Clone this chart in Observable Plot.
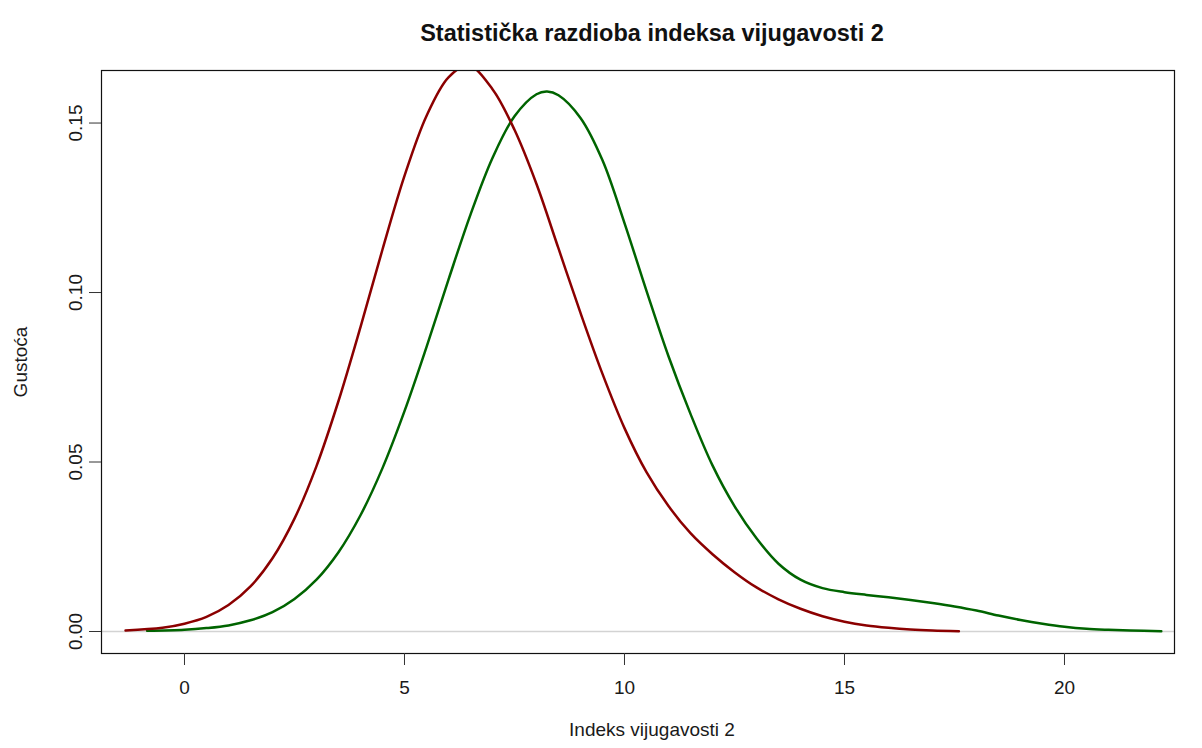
<!DOCTYPE html>
<html>
<head>
<meta charset="utf-8">
<script src="https://cdn.jsdelivr.net/npm/d3@7"></script>
<script src="https://cdn.jsdelivr.net/npm/@observablehq/plot@0.6"></script>
<style>
  body { margin: 0; background: #fff; }
  #chart { width: 1202px; height: 748px; }
</style>
</head>
<body>
<div id="chart"></div>
<script>
// Red density curve (x, density)
const redX = [-1.34, -0.5, 0, 0.5, 1.0, 1.5, 2.0, 2.5, 3.0, 3.5, 4.0, 4.5, 5.0, 5.5, 6.0, 6.45, 7.0, 7.5, 8.0, 8.5, 9.0, 9.5, 10.0, 10.5, 11.0, 11.5, 12.0, 12.5, 13.0, 13.5, 14.0, 14.5, 15.0, 15.5, 16.0, 16.5, 17.0, 17.6];
const redY = [0.0003, 0.0011, 0.0023, 0.0043, 0.0078, 0.0133, 0.0216, 0.0333, 0.0488, 0.068, 0.0898, 0.1127, 0.1344, 0.1521, 0.1635, 0.1670, 0.1600, 0.1480, 0.1320, 0.1130, 0.0940, 0.0760, 0.0600, 0.0470, 0.0370, 0.0290, 0.0228, 0.0175, 0.0130, 0.0095, 0.0067, 0.0045, 0.0029, 0.0018, 0.0011, 0.0006, 0.0003, 0.0001];
// Green density curve (x, density)
const greenX = [-0.85, 0, 0.5, 1.0, 1.5, 2.0, 2.5, 3.0, 3.5, 4.0, 4.5, 5.0, 5.5, 6.0, 6.5, 7.0, 7.5, 8.0, 8.24, 8.5, 9.0, 9.5, 10.0, 10.5, 11.0, 11.5, 12.0, 12.5, 13.0, 13.5, 14.0, 14.5, 15.0, 15.5, 16.0, 16.5, 17.0, 17.5, 18.0, 18.5, 19.0, 19.5, 20.0, 20.5, 21.0, 21.5, 22.2];
const greenY = [0.0002, 0.0005, 0.0010, 0.0018, 0.0033, 0.0057, 0.0096, 0.0153, 0.0234, 0.0343, 0.0482, 0.0650, 0.0839, 0.1038, 0.1230, 0.1397, 0.1520, 0.1585, 0.1593, 0.1582, 0.1515, 0.1390, 0.1205, 0.1005, 0.0812, 0.0642, 0.0490, 0.0370, 0.0275, 0.0200, 0.0153, 0.0128, 0.0116, 0.0108, 0.0101, 0.0093, 0.0084, 0.0074, 0.0062, 0.0047, 0.0034, 0.0023, 0.0014, 0.0008, 0.0005, 0.0003, 0.0001];

const xTicks = [0, 5, 10, 15, 20];
const yTicks = [0, 0.05, 0.10, 0.15];

const titleText = "Statistička razdioba indeksa vijugavosti 2";
const xLabel = "Indeks vijugavosti 2";
const yLabel = "Gustoća";

const red = redX.map((x, i) => ({x, y: redY[i]}));
const green = greenX.map((x, i) => ({x, y: greenY[i]}));

const font = "Liberation Sans, Arial, sans-serif";

const chart = Plot.plot({
  width: 1202,
  height: 748,
  marginLeft: 101,
  marginRight: 28,
  marginTop: 70,
  marginBottom: 95,
  style: {fontFamily: font, fontSize: "19px", color: "#1a1a1a", background: "#fff"},
  x: {domain: [-1.886, 22.5]},
  y: {domain: [-0.00649, 0.1655]},
  marks: [
    Plot.ruleY([0], {stroke: "#d3d3d3", strokeWidth: 1.5}),
    Plot.line(green, {x: "x", y: "y", stroke: "#006400", strokeWidth: 2.5, curve: "catmull-rom", clip: true}),
    Plot.line(red, {x: "x", y: "y", stroke: "#8b0000", strokeWidth: 2.5, curve: "catmull-rom", clip: true}),
    Plot.frame({stroke: "#111", strokeWidth: 1.2}),
    Plot.axisX({ticks: xTicks, tickSize: 12, tickPadding: 15, tickFormat: d3.format("d"), label: null, stroke: "#333", fontSize: 19}),
    Plot.axisY({ticks: yTicks, tickSize: 12, tickPadding: 8, tickRotate: -90, tickFormat: d3.format(".2f"), label: null, stroke: "#333", fontSize: 19}),
    Plot.text([titleText], {frameAnchor: "top", dx: 14, dy: -46, fontWeight: "bold", fontSize: 23.5, fill: "#111"}),
    Plot.text([xLabel], {frameAnchor: "bottom", dx: 14, dy: 82, fontSize: 19, fill: "#1a1a1a"}),
    Plot.text([yLabel], {frameAnchor: "left", dx: -81, rotate: -90, textAnchor: "middle", fontSize: 19, fill: "#1a1a1a"})
  ]
});
document.getElementById("chart").appendChild(chart);
</script>
</body>
</html>
